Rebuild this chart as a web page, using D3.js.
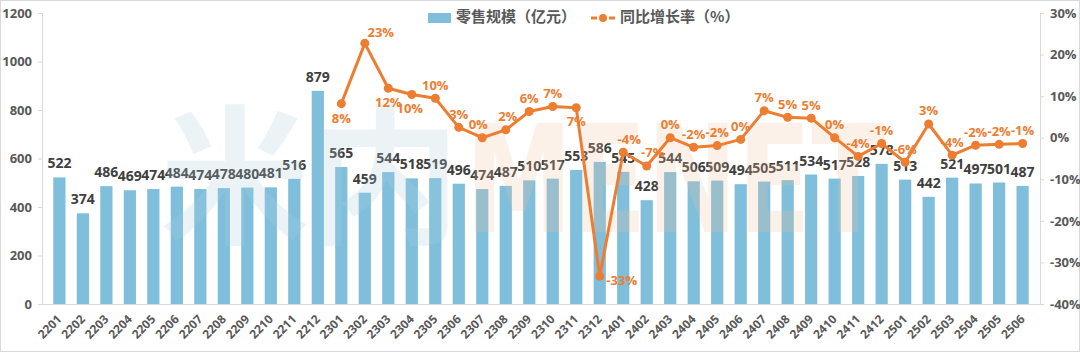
<!DOCTYPE html>
<html>
<head>
<meta charset="utf-8">
<script src="https://cdn.jsdelivr.net/npm/d3@7"></script>
<style>
  body { margin: 0; background: #fff; }
  svg { display: block; font-family: "Open Sans", "Noto Sans CJK SC", sans-serif; }
</style>
</head>
<body>
<div class="chart"></div>
<script>
const months = ["2201","2202","2203","2204","2205","2206","2207","2208","2209","2210","2211","2212",
  "2301","2302","2303","2304","2305","2306","2307","2308","2309","2310","2311","2312",
  "2401","2402","2403","2404","2405","2406","2407","2408","2409","2410","2411","2412",
  "2501","2502","2503","2504","2505","2506"];
const sales = [522,374,486,469,474,484,474,478,480,481,516,879,
  565,459,544,518,519,496,474,487,510,517,553,586,
  545,428,544,506,509,494,505,511,534,517,528,578,
  513,442,521,497,501,487];
// yoy growth (%), starts from 2301
const growthMonths = months.slice(12);
const growth = [8.2,22.7,11.9,10.4,9.5,2.5,0.0,1.9,6.3,7.5,7.2,-33.3,
  -3.5,-6.8,0.0,-2.3,-1.9,-0.4,6.5,4.9,4.7,0.0,-4.5,-1.4,
  -5.9,3.3,-4.2,-1.8,-1.6,-1.4];
const growthLabels = ["8%","23%","12%","10%","10%","3%","0%","2%","6%","7%","7%","-33%",
  "-4%","-7%","0%","-2%","-2%","0%","7%","5%","5%","0%","-4%","-1%",
  "-6%","3%","-4%","-2%","-2%","-1%"];
const leftTicks = [0,200,400,600,800,1000,1200];
const rightTicks = [-40,-30,-20,-10,0,10,20,30];

const W = 1080, H = 352;
const mLeft = 42, mRight = 1040, mTop = 13, mBottom = 304;
const blue = "#7fbfdc", orange = "#ed7d31";

let svg = d3.select(".chart").append("svg").attr("width", W).attr("height", H);
svg.append("rect").attr("x",0.5).attr("y",0.5).attr("width",W-1).attr("height",H-1)
   .attr("fill","#fff").attr("stroke","#d9d9d9");

let x = d3.scaleBand().domain(months).range([mLeft, mRight]).padding(0.48);
let y = d3.scaleLinear().domain([0,1200]).range([mBottom, mTop]);
let y2 = d3.scaleLinear().domain([-40,30]).range([mBottom, mTop]);

// axes
let yAxis = d3.axisLeft(y).tickValues(leftTicks).tickSize(4).tickPadding(6).tickFormat(d3.format("d"));
let ga = svg.append("g").attr("transform",`translate(${mLeft},0)`).call(yAxis);
let y2Axis = d3.axisRight(y2).tickValues(rightTicks).tickSize(4).tickPadding(6).tickFormat(d => d + "%");
let gb = svg.append("g").attr("transform",`translate(${mRight},0)`).call(y2Axis);
let xAxis = d3.axisBottom(x).tickSize(0).tickPadding(8);
let gx = svg.append("g").attr("transform",`translate(0,${mBottom})`).call(xAxis);
[ga, gb, gx].forEach(g => {
  g.select(".domain").attr("stroke","#d9d9d9");
  g.selectAll(".tick line").attr("stroke","#d9d9d9");
  g.selectAll("text").attr("fill","#595959").attr("font-weight","bold")
   .attr("font-size", 13).attr("font-family", "Open Sans, sans-serif");
});
gx.selectAll("text").attr("font-size", 12)
  .attr("x", 0).attr("y", 0).attr("dy","0.35em")
  .attr("text-anchor","end")
  .attr("transform","translate(0,13) rotate(-45)");

// bars
svg.append("g").selectAll("rect").data(sales).join("rect")
   .attr("x",(d,i) => x(months[i])).attr("width", x.bandwidth())
   .attr("y", d => y(d)).attr("height", d => mBottom - y(d))
   .attr("fill", blue);
svg.append("g").selectAll("text").data(sales).join("text")
   .attr("x",(d,i) => x(months[i]) + x.bandwidth()/2)
   .attr("y", d => y(d) - 9)
   .attr("text-anchor","middle").attr("font-size",14).attr("font-weight","bold")
   .attr("fill","#404040").text(d => d);

// watermark
let wm = svg.append("g").attr("opacity",0.22).attr("font-weight","bold").attr("font-size",150);
wm.append("text").attr("x",160).attr("y",232).attr("fill","#a9cddd")
  .attr("font-family","Noto Sans CJK SC").attr("textLength",300).text("米内");
wm.append("text").attr("x",465).attr("y",232).attr("fill","#f6c39a")
  .attr("font-family","DejaVu Sans").attr("textLength",420).attr("lengthAdjust","spacingAndGlyphs").text("MENET");

// growth line
let cx = (d,i) => x(growthMonths[i]) + x.bandwidth()/2;
let line = d3.line().x(cx).y(d => y2(d));
svg.append("path").attr("d", line(growth)).attr("fill","none")
   .attr("stroke", orange).attr("stroke-width",3).attr("stroke-linejoin","round");
svg.append("g").selectAll("circle").data(growth).join("circle")
   .attr("cx", cx).attr("cy", d => y2(d)).attr("r",4.5).attr("fill", orange);

// label placement: [dx, dy] relative to point
const place = {0:[0,16],1:[16,-10],2:[0,15],3:[-2,15],4:[0,-12],5:[0,-12],6:[-4,-12],7:[2,-12],
  8:[0,-12],9:[0,-12],10:[0,15],11:[22,5],12:[6,-12],13:[6,-12]};
svg.append("g").selectAll("text").data(growth).join("text")
   .attr("x",(d,i) => cx(d,i) + (place[i] ? place[i][0] : 0))
   .attr("y",(d,i) => y2(d) + (place[i] ? place[i][1] : -12))
   .attr("text-anchor","middle").attr("dominant-baseline","middle")
   .attr("font-size",13).attr("font-weight","bold").attr("fill", orange)
   .text((d,i) => growthLabels[i]);

// legend
let lg = svg.append("g").attr("font-size",15).attr("font-weight","bold").attr("fill","#595959");
lg.append("rect").attr("x",428).attr("y",13).attr("width",23).attr("height",10).attr("fill",blue);
lg.append("text").attr("x",456).attr("y",18).attr("dominant-baseline","middle")
  .attr("font-family","Noto Sans CJK SC").text("零售规模（亿元）");
lg.append("line").attr("x1",591).attr("x2",615).attr("y1",18).attr("y2",18)
  .attr("stroke",orange).attr("stroke-width",3).attr("stroke-dasharray","6,3");
lg.append("circle").attr("cx",603).attr("cy",18).attr("r",4).attr("fill",orange);
lg.append("text").attr("x",620).attr("y",18).attr("dominant-baseline","middle")
  .attr("font-family","Noto Sans CJK SC").text("同比增长率（%）");
</script>
</body>
</html>
